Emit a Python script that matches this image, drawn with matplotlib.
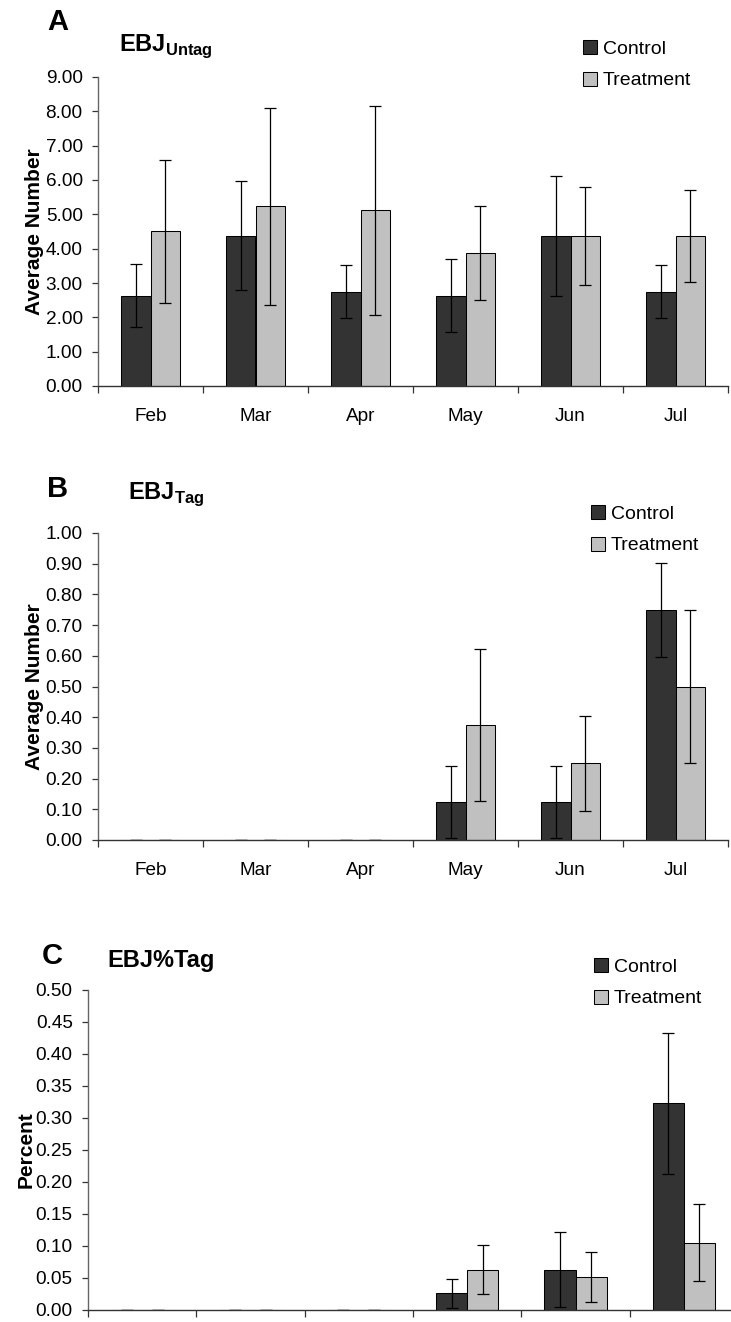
import matplotlib
matplotlib.use("Agg")
import matplotlib.pyplot as plt
import numpy as np

plt.rcParams['font.family'] = ['Liberation Sans', 'DejaVu Sans']
plt.rcParams['mathtext.fontset'] = 'custom'
plt.rcParams['mathtext.rm'] = 'Liberation Sans'
plt.rcParams['mathtext.bf'] = 'Liberation Sans:bold'

months = ['Feb', 'Mar', 'Apr', 'May', 'Jun', 'Jul']

# EBJ untagged
untag_control = [2.63, 4.38, 2.75, 2.63, 4.38, 2.75]
untag_control_err = [0.92, 1.58, 0.77, 1.07, 1.75, 0.77]
untag_treat = [4.50, 5.23, 5.12, 3.88, 4.37, 4.37]
untag_treat_err = [2.08, 2.88, 3.04, 1.37, 1.42, 1.33]

# EBJ tagged
tag_control = [0, 0, 0, 0.125, 0.125, 0.75]
tag_control_err = [0, 0, 0, 0.117, 0.117, 0.153]
tag_treat = [0, 0, 0, 0.375, 0.25, 0.50]
tag_treat_err = [0, 0, 0, 0.247, 0.155, 0.25]

# EBJ percent tagged
pct_control = [0, 0, 0, 0.026, 0.063, 0.323]
pct_control_err = [0, 0, 0, 0.023, 0.059, 0.110]
pct_treat = [0, 0, 0, 0.063, 0.051, 0.105]
pct_treat_err = [0, 0, 0, 0.038, 0.039, 0.060]

W, H = 731, 1322
fig = plt.figure(figsize=(W / 100, H / 100), dpi=100)


def px_axes(left, right, top, bottom):
    return fig.add_axes([left / W, 1 - bottom / H, (right - left) / W, (bottom - top) / H])


def panel(ax, ctrl, ctrl_err, trt, trt_err, ymax, ystep, ylabel, show_months=True, bw=0.285):
    x = np.arange(len(months))
    ekw = dict(ecolor='black', elinewidth=0.9, capsize=4, capthick=0.9)
    ax.bar(x - bw / 2, ctrl, bw, color='#333333', edgecolor='black', linewidth=0.75,
           yerr=ctrl_err, error_kw=ekw, label='Control', zorder=2)
    ax.bar(x + bw / 2, trt, bw, color='#c0c0c0', edgecolor='black', linewidth=0.75,
           yerr=trt_err, error_kw=ekw, label='Treatment', zorder=2)
    ax.set_xlim(-0.5, len(months) - 0.5)
    ax.set_ylim(0, ymax)
    ticks = np.arange(0, ymax + ystep / 2, ystep)
    ax.set_yticks(ticks)
    ax.set_yticklabels([f'{t:.2f}' for t in ticks], fontsize=13.7)
    ax.set_xticks(np.arange(-0.5, len(months)))
    ax.set_xticklabels([])
    if show_months:
        ax.set_xticks(x, minor=True)
        ax.set_xticklabels(months, minor=True, fontsize=13.7)
    ax.tick_params(axis='x', which='major', direction='out', length=5, width=0.9, color='#333333')
    ax.tick_params(axis='x', which='minor', length=0, pad=16)
    ax.tick_params(axis='y', direction='out', length=4, width=0.9, pad=7, color='#333333')
    ax.spines['top'].set_visible(False)
    ax.spines['right'].set_visible(False)
    ax.spines['left'].set_color('#666666')
    ax.spines['bottom'].set_color('#333333')
    ax.spines['left'].set_linewidth(1.0)
    ax.spines['bottom'].set_linewidth(1.0)
    ax.set_ylabel(ylabel, fontsize=15, fontweight='bold')
    ax.patch.set_visible(False)


def legend(ax, left, top):
    ax.legend(loc='upper left', bbox_to_anchor=(left / W, 1 - top / H),
              bbox_transform=fig.transFigure, frameon=False, fontsize=14,
              handlelength=0.72, handleheight=0.72, handletextpad=0.3,
              labelspacing=0.72, borderpad=0, borderaxespad=0)


# Panel A
axA = px_axes(98, 728, 77, 386)
panel(axA, untag_control, untag_control_err, untag_treat, untag_treat_err, 9.0, 1.0, 'Average Number')
axA.yaxis.set_label_coords(-0.086, 0.5)
legend(axA, 583, 40)
fig.text(47 / W, 1 - 22 / H, 'A', fontsize=21, fontweight='bold', va='center', ha='left')
fig.text(119 / W, 1 - 51 / H, r'$\mathbf{EBJ}_{\mathbf{Untag}}$', fontsize=17, va='baseline', ha='left')

# Panel B
axB = px_axes(98, 728, 533, 840)
panel(axB, tag_control, tag_control_err, tag_treat, tag_treat_err, 1.0, 0.1, 'Average Number')
axB.yaxis.set_label_coords(-0.086, 0.5)
legend(axB, 591, 505)
fig.text(47 / W, 1 - 489 / H, 'B', fontsize=21, fontweight='bold', va='center', ha='left')
fig.text(128 / W, 1 - 499 / H, r'$\mathbf{EBJ}_{\mathbf{Tag}}$', fontsize=17, va='baseline', ha='left')

# Panel C
axC = px_axes(88, 738, 990, 1310)
panel(axC, pct_control, pct_control_err, pct_treat, pct_treat_err, 0.5, 0.05, 'Percent',
      show_months=False, bw=0.287)
axC.yaxis.set_label_coords(-0.08, 0.5)
legend(axC, 594, 958)
fig.text(42 / W, 1 - 956 / H, 'C', fontsize=21, fontweight='bold', va='center', ha='left')
fig.text(107 / W, 1 - 960 / H, 'EBJ%Tag', fontsize=17, fontweight='bold', va='center', ha='left')

fig.savefig('out.png', dpi=100)
